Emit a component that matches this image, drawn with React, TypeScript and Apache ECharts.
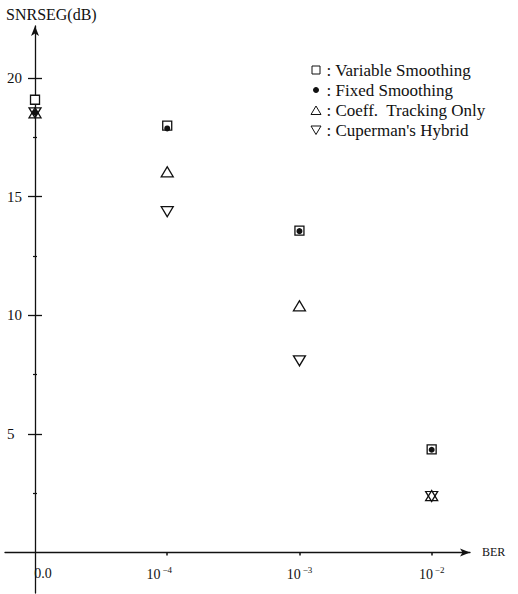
import React, { useEffect, useRef } from "react";
import * as echarts from "echarts";

const categories = ["0.0", "10|-4", "10|-3", "10|-2"];
const seriesNames = [
  "Variable Smoothing",
  "Fixed Smoothing",
  "Coeff.  Tracking Only",
  "Cuperman's Hybrid",
];
const variableSmoothing = [19.09, 18.0, 13.57, 4.35];
const fixedSmoothing = [18.55, 17.88, 13.55, 4.33];
const coeffTracking = [18.54, 16.05, 10.4, 2.4];
const cupermanHybrid = [18.54, 14.37, 8.08, 2.36];
const yTicks = [5, 10, 15, 20];
const yMinorTicks = [2.5, 7.5, 12.5, 17.5];

const FONT = "'Liberation Serif', 'DejaVu Serif', serif";
const INK = "#111";

export default function App() {
  const ref = useRef<HTMLDivElement>(null);
  useEffect(() => {
    if (!ref.current) return;
    const chart = echarts.init(ref.current, undefined, { renderer: "svg" });
    const toData = (arr: number[]) => arr.map((v, i) => [i, v]);
    const baseY = {
      type: "value",
      min: -1.71,
      max: 22.2,
      position: "left",
      splitLine: { show: false },
      axisLabel: { show: false },
    };
    const yAxes: any[] = [
      {
        ...baseY,
        axisLine: {
          show: true,
          onZero: true,
          onZeroAxisIndex: 0,
          symbol: ["none", "arrow"],
          symbolSize: [6, 10],
          lineStyle: { color: INK, width: 1.3 },
        },
        axisTick: { show: true, customValues: yTicks, length: 7, inside: false, lineStyle: { color: INK, width: 1.3 } },
        axisLabel: {
          show: true,
          customValues: yTicks,
          align: "left",
          margin: -2,
          fontFamily: FONT,
          fontSize: 15,
          color: INK,
        },
      },
      {
        ...baseY,
        axisLine: { show: false, onZero: true, onZeroAxisIndex: 0 },
        axisTick: { show: true, customValues: yTicks, length: 7, inside: true, lineStyle: { color: INK, width: 1.3 } },
      },
      {
        ...baseY,
        axisLine: { show: false, onZero: true, onZeroAxisIndex: 0 },
        axisTick: { show: true, customValues: yMinorTicks, length: 2, inside: true, lineStyle: { color: INK, width: 1.2 } },
      },
      {
        ...baseY,
        axisLine: { show: false, onZero: true, onZeroAxisIndex: 0 },
        axisTick: { show: true, customValues: yMinorTicks, length: 2, inside: false, lineStyle: { color: INK, width: 1.2 } },
      },
    ];

    const option: any = {
      animation: false,
      backgroundColor: "#fff",
      title: {
        text: "SNRSEG(dB)",
        left: 6,
        top: 6,
        padding: 0,
        textStyle: { fontFamily: FONT, fontSize: 16, fontWeight: "normal", color: INK },
      },
      grid: { left: 5, right: 48, top: 26, bottom: 1, containLabel: false, outerBoundsMode: "none" },
      legend: {
        orient: "vertical",
        left: 310,
        top: 60,
        padding: 0,
        itemGap: 0,
        itemWidth: 11,
        itemHeight: 10,
        formatter: ": {name}",
        itemStyle: { borderWidth: 1 },
        textStyle: { fontFamily: FONT, fontSize: 17, color: INK, lineHeight: 20 },
        data: [
          { name: seriesNames[0], icon: "path://M0,0M11,10M1.5,1h8v8h-8Z" },
          { name: seriesNames[1], icon: "path://M0,0M11,10M3,5a2.5,2.5 0 1,0 5,0a2.5,2.5 0 1,0 -5,0Z" },
          { name: seriesNames[2], icon: "path://M0,0M11,10M5.5,1L10.5,9.5L0.5,9.5Z" },
          { name: seriesNames[3], icon: "path://M0,0M11,10M0.5,1L10.5,1L5.5,9.5Z" },
        ],
      },
      xAxis: {
        type: "value",
        min: -0.227,
        max: 3.29,
        splitLine: { show: false },
        axisLine: {
          show: true,
          onZero: true,
          onZeroAxisIndex: 0,
          symbol: ["none", "arrow"],
          symbolSize: [6, 10],
          lineStyle: { color: INK, width: 1.3 },
        },
        axisTick: { show: true, customValues: [1, 2, 3], length: 3, lineStyle: { color: INK, width: 1.5 } },
        axisLabel: {
          show: true,
          customValues: [0, 1, 2, 3],
          margin: -28,
          fontFamily: FONT,
          fontSize: 14,
          color: INK,
          formatter: (v: number) => {
            const i = Math.round(v);
            const c = categories[i];
            if (!c) return "";
            if (i === 0) return "{zero|" + c + "}";
            const [b, s] = c.split("|");
            return "{b|" + b + "}" + (i === 1 ? "{sl|" : "{s|") + s.replace("-", "\u2212") + "}";
          },
          rich: {
            zero: { fontFamily: FONT, fontSize: 14, color: INK, lineHeight: 16, padding: [0, 0, 0, 16] },
            b: { fontFamily: FONT, fontSize: 14, color: INK, lineHeight: 16, verticalAlign: "bottom" },
            s: { fontFamily: FONT, fontSize: 9, color: INK, lineHeight: 16, verticalAlign: "top", padding: [0, 0, 0, 2] },
            sl: { fontFamily: FONT, fontSize: 9, color: INK, lineHeight: 16, verticalAlign: "top", padding: [0, 16, 0, 2] },
          },
        },
        name: "BER",
        nameLocation: "end",
        nameGap: 12,
        nameTextStyle: { fontFamily: FONT, fontSize: 12, color: INK, verticalAlign: "middle" },
      },
      yAxis: yAxes,
      series: [
        {
          name: seriesNames[0],
          type: "scatter",
          data: toData(variableSmoothing),
          symbol: "rect",
          symbolSize: 9,
          itemStyle: { color: "#fff", borderColor: INK, borderWidth: 1.3, opacity: 1 },
          z: 2,
        },
        {
          name: seriesNames[1],
          type: "scatter",
          data: toData(fixedSmoothing),
          symbol: "circle",
          symbolSize: 6,
          itemStyle: { color: INK, borderColor: INK, borderWidth: 0, opacity: 1 },
          z: 3,
        },
        {
          name: seriesNames[2],
          type: "scatter",
          data: toData(coeffTracking),
          symbol: "triangle",
          symbolSize: [12, 10],
          itemStyle: { color: "rgba(255,255,255,0)", borderColor: INK, borderWidth: 1.3, opacity: 1 },
          z: 4,
        },
        {
          name: seriesNames[3],
          type: "scatter",
          data: toData(cupermanHybrid),
          symbol: "triangle",
          symbolRotate: 180,
          symbolSize: [12, 10],
          itemStyle: { color: "rgba(255,255,255,0)", borderColor: INK, borderWidth: 1.3, opacity: 1 },
          z: 4,
        },
      ],
    };
    chart.setOption(option);
    return () => chart.dispose();
  }, []);
  return (
    <div
      ref={ref}
      style={{ position: "fixed", left: 0, top: 0, width: 518, height: 594, background: "#fff" }}
    />
  );
}
